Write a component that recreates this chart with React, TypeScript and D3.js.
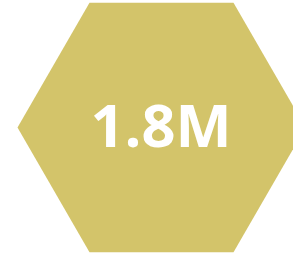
import React from 'react';
import * as d3 from 'd3';

// single KPI value shown inside a hexagon
const metricNames = ['total'];
const metricValues = [1800000];

const WIDTH = 293;
const HEIGHT = 254;

export default function App() {
  const value = metricValues[0];
  const label = d3.format('.2s')(value);

  // hexagon geometry (pointy left/right, flat top/bottom)
  const cx = 161.5;
  const cy = 127.5;
  const r = 144;
  const angle = d3.scaleLinear().domain([0, 6]).range([0, 2 * Math.PI]);
  const pts: [number, number][] = d3.range(6).map(i => [
    cx + r * Math.cos(angle(i)),
    cy + r * Math.sin(angle(i))
  ]);
  const hex = d3.line().curve(d3.curveLinearClosed)(pts) || '';

  return (
    <svg
      width={WIDTH}
      height={HEIGHT}
      style={{ position: 'absolute', left: 0, top: 0, display: 'block' }}
    >
      <rect width={WIDTH} height={HEIGHT} fill="#ffffff" />
      <path d={hex} fill="#D3C46A" data-name={metricNames[0]} />
      <text
        x={cx - 0.5}
        y={147}
        textAnchor="middle"
        fill="#ffffff"
        style={{ fontFamily: '"Open Sans", sans-serif', fontWeight: 700, fontSize: 59.5 }}
      >
        {label}
      </text>
    </svg>
  );
}
